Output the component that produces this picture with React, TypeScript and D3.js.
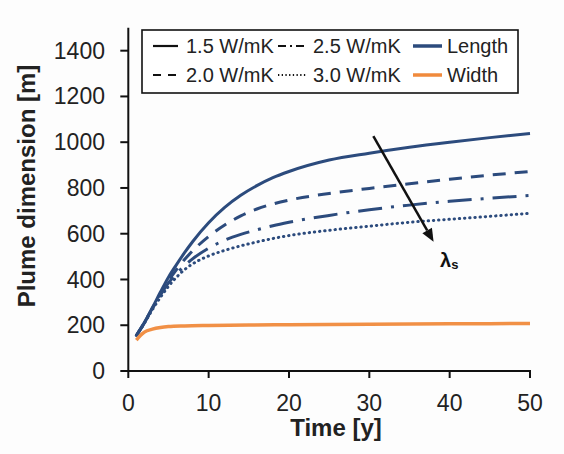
import React from "react";
import * as d3 from "d3";

// Simulated plume length for four soil thermal conductivities, and the plume width
const times = [1, 2, 3, 4, 5, 6, 7, 8, 10, 12, 14, 16, 18, 20, 25, 30, 35, 40, 45, 50];
const length15 = [155, 212, 277, 345, 410, 465, 517, 565, 648, 715, 768, 810, 845, 872, 922, 952, 978, 1000, 1020, 1038];
const length20 = [155, 211, 275, 338, 395, 443, 487, 525, 588, 638, 678, 708, 730, 747, 776, 798, 818, 838, 856, 872];
const length25 = [155, 210, 273, 332, 385, 425, 460, 490, 537, 572, 597, 617, 635, 650, 680, 705, 725, 742, 755, 767];
const length30 = [155, 209, 268, 322, 370, 410, 443, 468, 503, 527, 547, 564, 579, 592, 615, 633, 650, 663, 676, 689];

const widthTimes = [1, 1.5, 2, 3, 4, 5, 7, 10, 15, 20, 30, 40, 50];
const widthValues = [135, 155, 170, 183, 190, 194, 197, 199, 201, 202, 204, 206, 208];

const xTicks = [0, 10, 20, 30, 40, 50];
const yTicks = [0, 200, 400, 600, 800, 1000, 1200, 1400];

const conductivityLabels = ["1.5 W/mK", "2.0 W/mK", "2.5 W/mK", "3.0 W/mK"];

// Arrow showing increasing conductivity (time, metres)
const arrowFrom = [30.5, 1027];
const arrowTo = [38.0, 565];

const NAVY = "#2c4b7d";
const ORANGE = "#f08a3c";
const FONT = "'Liberation Sans', Arial, Helvetica, sans-serif";

const dashes = ["", "13,9", "24,9,3,9", "0.4,4.8"];

export default function App() {
  const x = d3.scaleLinear().domain([0, 50]).range([128.3, 530]);
  const y = d3.scaleLinear().domain([0, 1500]).range([371, 27.8]);

  const line = d3
    .line<[number, number]>()
    .x((d) => x(d[0]))
    .y((d) => y(d[1]))
    .curve(d3.curveMonotoneX);

  const lengthSeries = [length15, length20, length25, length30];

  const ax1 = x(arrowFrom[0]);
  const ay1 = y(arrowFrom[1]);
  const ax2 = x(arrowTo[0]);
  const ay2 = y(arrowTo[1]);
  const ang = Math.atan2(ay2 - ay1, ax2 - ax1);
  const headLen = 13;
  const headW = 5.5;
  const bx = ax2 - headLen * Math.cos(ang);
  const by = ay2 - headLen * Math.sin(ang);
  const head = [
    [ax2, ay2],
    [bx + headW * Math.sin(ang), by - headW * Math.cos(ang)],
    [bx - headW * Math.sin(ang), by + headW * Math.cos(ang)],
  ]
    .map((p) => p.join(","))
    .join(" ");

  // Legend layout
  const legendRows = [46, 75];
  const legendItems = [
    { col: 0, row: 0, dash: dashes[0], color: "#111", label: conductivityLabels[0] },
    { col: 0, row: 1, dash: "8,7", color: "#111", label: conductivityLabels[1] },
    { col: 1, row: 0, dash: "8,4,2,4", color: "#111", label: conductivityLabels[2] },
    { col: 1, row: 1, dash: "1.3,2.4", color: "#111", label: conductivityLabels[3] },
    { col: 2, row: 0, dash: "", color: NAVY, label: "Length" },
    { col: 2, row: 1, dash: "", color: ORANGE, label: "Width" },
  ];
  const colSample = [153, 278, 413];
  const sampleLen = [25, 28, 29];
  const colText = [186, 313, 447];

  return (
    <svg
      width={564}
      height={454}
      style={{ position: "fixed", left: 0, top: 0, background: "#fdfdfd" }}
      fontFamily={FONT}
    >
      <rect x={0} y={0} width={564} height={454} fill="#fdfdfd" />

      {/* Plume length curves */}
      {lengthSeries.map((vals, i) => (
        <path
          key={i}
          d={line(times.map((t, j) => [t, vals[j]]) as [number, number][]) || ""}
          fill="none"
          stroke={NAVY}
          strokeWidth={3}
          strokeDasharray={dashes[i] || undefined}
          strokeLinecap={i === 3 ? "round" : "butt"}
        />
      ))}

      {/* Plume width */}
      <path
        d={line(widthTimes.map((t, j) => [t, widthValues[j]]) as [number, number][]) || ""}
        fill="none"
        stroke={ORANGE}
        strokeWidth={3.5}
        opacity={0.95}
      />

      {/* Axes */}
      <line x1={x(0)} x2={x(0)} y1={y(1500)} y2={y(0)} stroke="#111" strokeWidth={2} />
      <line x1={x(0)} x2={x(50) + 1} y1={y(0)} y2={y(0)} stroke="#111" strokeWidth={2} />
      {yTicks.map((v) => (
        <g key={v}>
          <line x1={x(0) - 8} x2={x(0)} y1={y(v)} y2={y(v)} stroke="#111" strokeWidth={2} />
          <text
            x={105}
            y={y(v)}
            dy="0.35em"
            textAnchor="end"
            fontSize={23}
            fill="#222"
          >
            {v}
          </text>
        </g>
      ))}
      {xTicks.map((v) => (
        <g key={v}>
          <line x1={x(v)} x2={x(v)} y1={y(0)} y2={y(0) + 7} stroke="#111" strokeWidth={2} />
          <text x={x(v)} y={403} dy="0.35em" textAnchor="middle" fontSize={23} fill="#222">
            {v}
          </text>
        </g>
      ))}

      <text
        x={336}
        y={436}
        textAnchor="middle"
        fontSize={24}
        fontWeight="bold"
        fill="#222"
      >
        Time [y]
      </text>
      <text
        transform="translate(35,186) rotate(-90)"
        textAnchor="middle"
        fontSize={24}
        fontWeight="bold"
        fill="#222"
      >
        Plume dimension [m]
      </text>

      {/* Arrow */}
      <line x1={ax1} y1={ay1} x2={bx} y2={by} stroke="#111" strokeWidth={2.5} />
      <polygon points={head} fill="#111" />
      <text x={440} y={267} fontSize={20} fontWeight="bold" fill="#111">
        λ
        <tspan fontSize={13} dy={2}>
          s
        </tspan>
      </text>

      {/* Legend */}
      <rect x={142} y={30} width={376} height={63} fill="#fff" stroke="#111" strokeWidth={1.6} />
      {legendItems.map((it, i) => (
        <g key={i}>
          <line
            x1={colSample[it.col]}
            x2={colSample[it.col] + sampleLen[it.col]}
            y1={legendRows[it.row]}
            y2={legendRows[it.row]}
            stroke={it.color}
            strokeWidth={it.col === 2 ? 3.5 : 2.2}
            strokeDasharray={it.dash || undefined}
          />
          <text
            x={colText[it.col]}
            y={legendRows[it.row]}
            dy="0.36em"
            fontSize={20}
            fill="#222"
          >
            {it.label}
          </text>
        </g>
      ))}
    </svg>
  );
}
